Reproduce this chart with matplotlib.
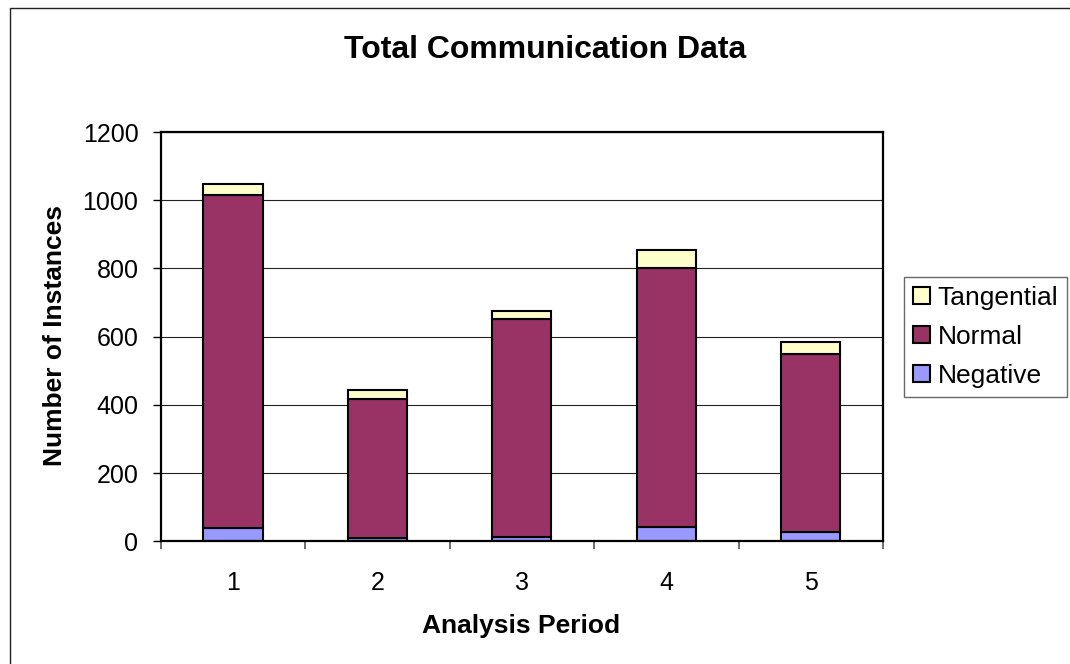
import matplotlib
matplotlib.use("Agg")
import matplotlib.pyplot as plt
from matplotlib.patches import Rectangle
import numpy as np

plt.rcParams['font.family'] = ['Liberation Sans', 'DejaVu Sans']

periods = ["1", "2", "3", "4", "5"]
negative = [40, 10, 12, 43, 29]
normal = [976, 409, 641, 757, 519]
tangential = [32, 24, 22, 55, 37]

series_names = ["Negative", "Normal", "Tangential"]
series_colors = ["#9999FF", "#993366", "#FFFFCC"]

fig = plt.figure(figsize=(10.7, 6.64), dpi=100)
ax = fig.add_axes([0.1502, 0.1845, 0.8252 - 0.1502, 0.8012 - 0.1845])

x = np.arange(1, len(periods) + 1)
width = 0.41
bottom = np.zeros(len(periods))
handles = []
for name, vals, col in zip(series_names, [negative, normal, tangential], series_colors):
    b = ax.bar(x, vals, width, bottom=bottom, color=col, edgecolor="black",
               linewidth=1.5, label=name, zorder=3)
    handles.append(b)
    bottom += np.array(vals)

ax.set_xlim(0.5, 5.5)
ax.set_ylim(0, 1200)
ax.set_yticks(np.arange(0, 1201, 200))
ax.set_xticks(x)
ax.set_xticklabels(periods)
ax.set_xticks(np.arange(0.5, 5.6, 1.0), minor=True)
ax.tick_params(axis="x", which="major", length=0, pad=21, labelsize=18)
ax.tick_params(axis="x", which="minor", length=6, width=1.2, color="#555555", direction="out")
ax.tick_params(axis="y", which="major", length=6, width=1.0, direction="out", pad=10, labelsize=18)

ax.yaxis.grid(True, color="#222222", linewidth=0.8, zorder=0)
ax.set_axisbelow(True)
for sp in ax.spines.values():
    sp.set_linewidth(1.6)
    sp.set_color("black")
    sp.set_zorder(4)

fig.text(545 / 1070, 1 - 50 / 664, "Total Communication Data", ha="center", va="center",
         fontsize=23, fontweight="bold")
fig.text(521 / 1070, 1 - 626 / 664, "Analysis Period", ha="center", va="center",
         fontsize=19, fontweight="bold")
fig.text(55 / 1070, 1 - 336 / 664, "Number of Instances", ha="center", va="center",
         rotation=90, fontsize=19, fontweight="bold")

leg = fig.legend(handles[::-1], [series_names[2], series_names[1], series_names[0]],
                 loc="upper left", bbox_to_anchor=(904 / 1070, 1 - 277 / 664),
                 fontsize=19, frameon=True, fancybox=False, shadow=False,
                 handlelength=0.62, handleheight=0.62, handletextpad=0.3,
                 labelspacing=0.56, borderpad=0.35, borderaxespad=0)
leg.get_frame().set_edgecolor("#444444")
leg.get_frame().set_linewidth(1.0)

# outer chart-area border
fig.patches.append(Rectangle((10 / 1070, -0.1), 1.2, 1 - 8 / 664 + 0.1,
                             transform=fig.transFigure, fill=False,
                             edgecolor="#222222", linewidth=1.0))

fig.savefig("out.png", dpi=100)
